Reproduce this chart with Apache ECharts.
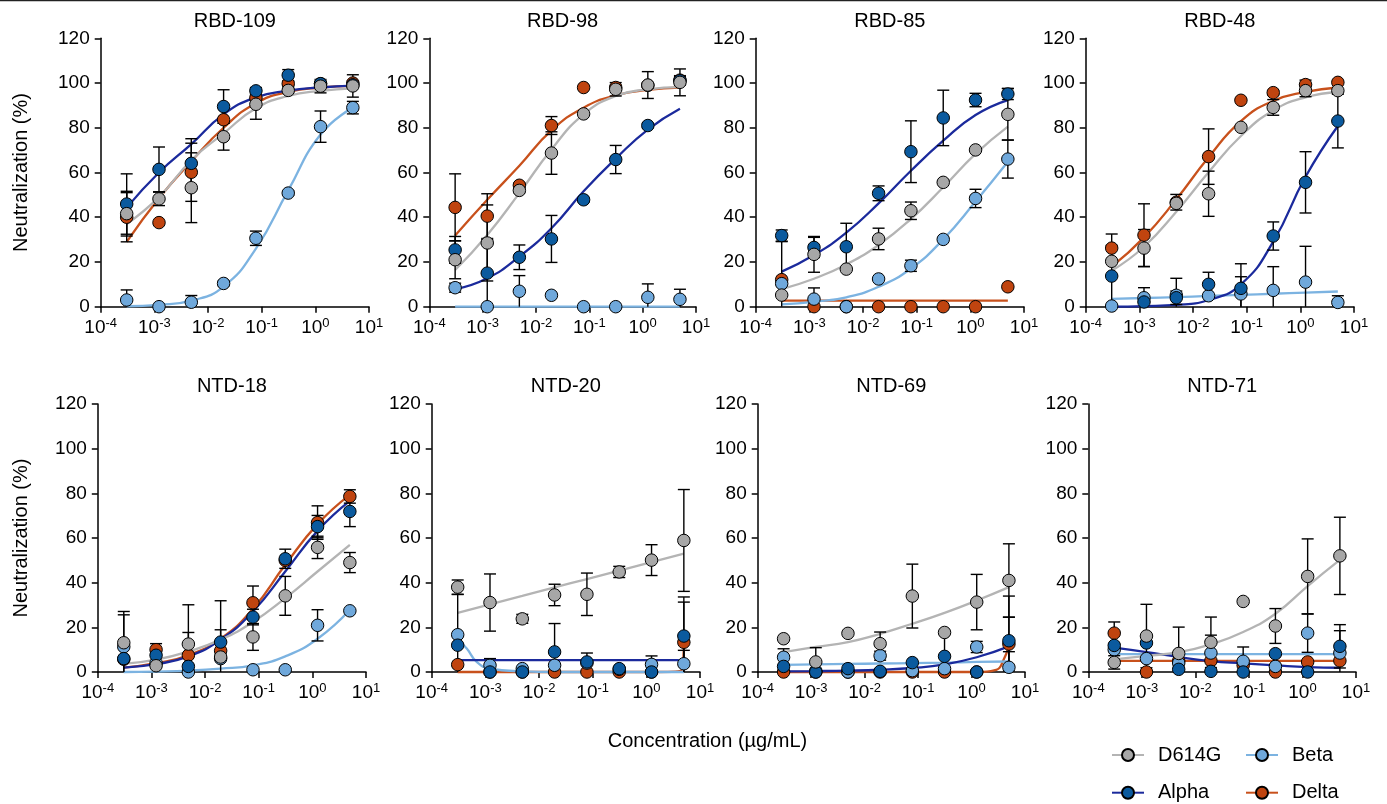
<!DOCTYPE html>
<html><head><meta charset="utf-8">
<script src="https://cdn.jsdelivr.net/npm/echarts@6/dist/echarts.min.js"></script>
<style>html,body{margin:0;padding:0;background:#fff}#chart{width:1387px;height:804px}</style>
</head><body><div id="chart"></div>
<script>
// ---------- data ----------
const concentrations = [0.000305, 0.00122, 0.00488, 0.0195, 0.0781, 0.3125, 1.25, 5];
const variants = ['D614G', 'Alpha', 'Beta', 'Delta'];
const panelTitles = ['RBD-109', 'RBD-98', 'RBD-85', 'RBD-48', 'NTD-18', 'NTD-20', 'NTD-69', 'NTD-71'];
const yTicks = [0, 20, 40, 60, 80, 100, 120];
const xTickExponents = [-4, -3, -2, -1, 0, 1];

// rows: D614G, Alpha, Beta, Delta
const RBD109_mean = [[41.6,48.2,53.2,76,90.5,96.7,98.6,98.7],[45.9,61.4,64.1,89.5,96.5,103.5,99.7,99.2],[3,0,2,10.4,30.6,50.8,80.5,89],[40,37.6,60.1,83.6,93.3,99.7,99.7,100]];
const RBD109_sd   = [[10,3,15.6,6,6.7,1,3,5],[13.5,10,11,7.5,1.5,2.5,1,1],[4.5,0,3,1,3.2,1,7,2.8],[11,0,13,0,1,1,1,1]];
const RBD109_fit  = [[37,49,65.5,77.5,88.7,94.2,96.5,97.6],[44.3,60,72.7,86,93.6,96.6,98,98.8],[0.2,0.8,2.7,9,26,52,77,89],[29,48.5,65,80,91,96,98,98.7]];

const RBD98_mean = [[21,28.5,52,68.7,86.2,97.2,99.1,100.3],[25.4,15,22.1,30.3,47.8,65.8,81,101],[8.5,0,6.9,5.1,0,0,4.2,3.3],[44.4,40.5,54.3,81,98,98,99,101.3]];
const RBD98_sd   = [[8.5,17,1,9.5,0,3,6,6],[6,15,5.5,10.5,1,6.3,1,2],[2,0,7,0,0,0,6,4.5],[15,10,1,4,0,1,1,2]];
const RBD98_fit  = [[16.4,32.1,50.8,70.3,86,94.2,97.2,98.2],[7.8,12.7,22.4,35.1,51.6,66.2,79.2,88.5],[0,0,0,0,0,0,0,0],[31.8,47.8,63,78.8,89,94.5,96.9,98]];

const RBD85_mean = [[5.2,23.4,16.8,30.3,42.9,55.6,70.1,86],[31.8,26.5,26.8,50.7,69.3,84.4,92.4,95.1],[10.3,3.4,0,12.4,18.3,30.1,48.4,66],[12.1,0,0,0,0,0,0,8.9]];
const RBD85_sd   = [[0,8,0,4.8,3.9,0,0,11.5],[2.5,4.5,10.5,3.3,13.8,12.4,3,2.5],[0,5,0,0,2.5,0,4.1,8.5],[17,0,0,0,0,0,0,0]];
const RBD85_fit  = [[7.9,12.5,18.9,27.6,39.2,53.4,68.3,80.5],[15.7,23.1,33.1,46.2,60.8,74.2,85.7,92.4],[1,2.2,4.2,8.9,17.1,30.1,47,64.8],[2.7,2.7,2.7,2.7,2.7,2.7,2.7,2.7]];

const RBD48_mean = [[20.3,26.2,46.2,50.5,80.2,89.1,96.6,96.6],[13.7,2.1,4,10,8.2,31.6,55.6,83],[0.3,4,5.1,4.9,5.7,7.3,11,1.9],[26.2,32,46.7,67.1,92.3,95.7,99.3,100.3]];
const RBD48_sd   = [[0,8.3,0,10.1,0,3.5,2.7,0],[13.7,2.5,3,5.4,11,6.3,13.7,12],[0,4.5,7.6,0,7.7,10.6,16,3],[6.3,14,3.5,12.4,0,1,2,0]];
const RBD48_fit  = [[16.1,26.8,42.5,60.1,76.3,87.7,93.6,96],[0,0.3,0.8,3,10,29.1,58.1,80.8],[3.5,3.9,4.3,4.8,5.3,5.8,6.3,6.8],[17.9,31,48,66.8,83,92,96,98]];

const NTD18_mean = [[13.1,2.8,12.5,6.7,15.7,34.1,55.8,49],[6,7.5,2.5,13.4,24.6,50.7,65.1,71.9],[11.3,4,0,6,1,1,20.9,27.4],[5.7,10,7.5,9.5,31,50,66.9,78.6]];
const NTD18_sd   = [[14,0,17.6,0,6,8.7,5,4.5],[0,0,0,5.5,3.5,4.3,5,6.8],[14.3,0,0,0,0,0,7,0],[0,2.7,10.2,22.4,7.5,0,7.5,3]];
const NTD18_fit  = [[3.6,5.5,9.2,14.5,22.4,33.1,45,56.9],[2,3.5,7,14.5,27.1,45,63.2,76.6],[0,0.2,0.6,1.5,3,7,14.9,27.9],[2,4,7.5,14.9,28.3,48,66.2,79.3]];

const NTD20_mean = [[38,31.1,23.8,34.5,34.8,44.8,50.1,58.9],[12,0,0,9,4.5,1.5,0,16.1],[16.7,3,1.5,3,4,1.2,3.4,3.7],[3.3,0,0,0,0,0,0,13.3]];
const NTD20_sd   = [[3.2,12.8,2,4.8,9.5,2.5,6.9,22.8],[0,0,0,12.7,4,0,0,17.5],[18,3,0,0,0,0,3.8,6],[0,0,0,0,0,0,0,18]];
const NTD20_fit  = [[26.5,30.3,34.1,37.9,41.6,45.4,49.2,53],[5.3,5.3,5.3,5.3,5.3,5.3,5.3,5.3],[14.5,1.5,0.3,0,0,0,0,0],[0,0,0,0,0,0,0,13]];
const NTD20_fitExtra = [[], [], [[0.00045,10.5],[0.00069,4.5]], [[4.4,0.5]]];

const NTD69_mean = [[14.9,4.5,17.3,12.7,34,17.7,31.3,41],[2.5,0,1.5,0.3,4.2,7,0,14],[6.6,0.5,0,7.3,0.6,1.5,11.2,2.1],[0,0,0,0,0,0,0,12.5]];
const NTD69_sd   = [[0,6.4,0,5.2,14.3,0,12.4,16.4],[0,0,0,0,0,10,0,20],[3.8,0,0,2,0,0,2.5,7],[0,0,0,0,0,0,0,12]];
const NTD69_fit  = [[8.9,11.2,13.4,17.1,21.6,26.5,32,38],[0.3,0.4,0.6,1,1.8,3.4,6.6,11.5],[3.2,3.4,3.6,3.8,4,4.2,4.5,4.7],[0,0,0,0,0,0,0,12]];
const NTD69_fitExtra = [[], [], [], [[2.9,1],[3.9,5]]];

const NTD71_mean = [[4.3,16.1,8.3,13.3,31.6,20.6,42.8,52],[11.9,13,1.2,0.3,0,8.2,0,11.5],[10,6,4,8.5,4.8,2.5,17.4,8.5],[17.4,0,5,5,3,0,4.5,5]];
const NTD71_sd   = [[3,14.2,11.8,11.3,0,7.8,16.8,17.3],[0,0,0,0,0,0,0,9.7],[0,0,0,8,6.4,0,8.6,10],[5,0,0,0,0,0,0,0]];
const NTD71_fit  = [[5.7,7.2,8.9,12.4,17.9,26.1,38.5,50.2],[10.9,8.9,6.7,4.9,3.9,3,2.2,1.9],[8,8,8,8,8,8,8,8],[5,5,5,5,5,5,5,5]];

const panelMeans = [RBD109_mean, RBD98_mean, RBD85_mean, RBD48_mean, NTD18_mean, NTD20_mean, NTD69_mean, NTD71_mean];
const panelSDs   = [RBD109_sd, RBD98_sd, RBD85_sd, RBD48_sd, NTD18_sd, NTD20_sd, NTD69_sd, NTD71_sd];
const panelFits  = [RBD109_fit, RBD98_fit, RBD85_fit, RBD48_fit, NTD18_fit, NTD20_fit, NTD69_fit, NTD71_fit];
const panelFitExtras = [null, null, null, null, null, NTD20_fitExtra, NTD69_fitExtra, null];

// ---------- styling ----------
const FONT = 'Liberation Sans, Arial, Helvetica, sans-serif';
const markerColors = { D614G: '#a7a7a7', Alpha: '#0b5a9e', Beta: '#6fa8db', Delta: '#c0440f' };
const curveColors  = { D614G: '#b4b4b4', Alpha: '#1b2a9c', Beta: '#7cb3e1', Delta: '#c8511c' };
const drawOrder = ['Delta', 'Beta', 'Alpha', 'D614G'];

const gridLefts  = [100.7, 429.3, 755.7, 1085.7, 97.8, 431.7, 757.7, 1088.3];
const gridWidths = [268.3, 266.7, 268.3, 268.3, 268.2, 268.3, 267.3, 267.7];
const rowTops = [38.3, 404];
const rowHeights = [268.4, 268];

const grids = [], xAxes = [], yAxes = [], series = [], graphics = [];

function renderErr(params, api) {
  const x = api.value(0), m = api.value(1), e = api.value(2);
  if (!(e > 0)) return null;
  const hi = m + e, lo = Math.max(0, m - e);
  const p1 = api.coord([x, hi]), p0 = api.coord([x, lo]);
  const w = 6;
  const st = { stroke: '#000', lineWidth: 1.4, fill: null };
  const ch = [
    { type: 'line', shape: { x1: p0[0], y1: p0[1], x2: p1[0], y2: p1[1] }, style: st },
    { type: 'line', shape: { x1: p1[0] - w, y1: p1[1], x2: p1[0] + w, y2: p1[1] }, style: st }
  ];
  if (m - e >= 0) ch.push({ type: 'line', shape: { x1: p0[0] - w, y1: p0[1], x2: p0[0] + w, y2: p0[1] }, style: st });
  return { type: 'group', children: ch };
}

panelTitles.forEach((title, p) => {
  const row = p < 4 ? 0 : 1;
  grids.push({ left: gridLefts[p], top: rowTops[row], width: gridWidths[p], height: rowHeights[row], containLabel: false });
  xAxes.push({
    gridIndex: p, type: 'log', logBase: 10, min: Math.pow(10, xTickExponents[0]), max: Math.pow(10, xTickExponents[xTickExponents.length - 1]),
    axisLine: { lineStyle: { color: '#000', width: 1.5 } },
    axisTick: { show: true, length: 6, lineStyle: { color: '#000', width: 1.5 } },
    minorTick: { show: false }, splitLine: { show: false },
    axisLabel: {
      margin: 10,
      formatter: v => '{b|10}{s|' + Math.round(Math.log10(v)) + '}',
      rich: {
        b: { fontSize: 19, color: '#000', fontFamily: FONT },
        s: { fontSize: 13, color: '#000', fontFamily: FONT, padding: [0, 0, 9, 0] }
      }
    }
  });
  yAxes.push({
    gridIndex: p, type: 'value', min: yTicks[0], max: yTicks[yTicks.length - 1], interval: yTicks[1] - yTicks[0],
    axisLine: { show: true, lineStyle: { color: '#000', width: 1.5 } },
    axisTick: { show: true, length: 6, lineStyle: { color: '#000', width: 1.5 } },
    splitLine: { show: false },
    axisLabel: { fontSize: 19, color: '#000', fontFamily: FONT, margin: 11 }
  });

  const means = panelMeans[p], sds = panelSDs[p], fits = panelFits[p], extras = panelFitExtras[p];
  drawOrder.forEach(v => {
    const k = variants.indexOf(v);
    let pts = concentrations.map((c, i) => [c, fits[k][i]]);
    if (extras && extras[k].length) pts = pts.concat(extras[k]).sort((a, b) => a[0] - b[0]);
    series.push({
      name: title + ' ' + v + ' fit', type: 'line', xAxisIndex: p, yAxisIndex: p, data: pts,
      symbol: 'none', smooth: 0.5, clip: false, z: 2, silent: true,
      lineStyle: { color: curveColors[v], width: 2.3 }
    });
  });
  drawOrder.forEach(v => {
    const k = variants.indexOf(v);
    series.push({
      name: title + ' ' + v + ' sd', type: 'custom', xAxisIndex: p, yAxisIndex: p, z: 3, silent: true, clip: false,
      data: concentrations.map((c, i) => [c, means[k][i], sds[k][i]]),
      encode: { x: 0, y: 1 }, renderItem: renderErr
    });
  });
  drawOrder.forEach(v => {
    const k = variants.indexOf(v);
    series.push({
      name: title + ' ' + v + ' mean', type: 'scatter', xAxisIndex: p, yAxisIndex: p, z: 4, clip: false, silent: true,
      data: concentrations.map((c, i) => [c, means[k][i]]),
      symbol: 'circle', symbolSize: 12.5,
      itemStyle: { color: markerColors[v], borderColor: '#000', borderWidth: 1, opacity: 1 }
    });
  });

  graphics.push({
    type: 'text', x: gridLefts[p] + gridWidths[p] / 2, y: rowTops[row] - 17.3,
    style: { text: title, fontSize: 20, fontFamily: FONT, fill: '#000', align: 'center', verticalAlign: 'middle' }
  });
});

// legend-only series
variants.forEach(v => {
  series.push({
    name: v, type: 'line', xAxisIndex: 0, yAxisIndex: 0, data: [],
    symbol: 'circle', symbolSize: 12,
    lineStyle: { color: curveColors[v], width: 3 },
    itemStyle: { color: markerColors[v], borderColor: '#000', borderWidth: 1 }
  });
});

graphics.push(
  { type: 'text', x: 21, y: rowTops[0] + rowHeights[0] / 2, rotation: Math.PI / 2,
    style: { text: 'Neutralization (%)', fontSize: 20, fontFamily: FONT, fill: '#000', align: 'center', verticalAlign: 'middle' } },
  { type: 'text', x: 21, y: rowTops[1] + rowHeights[1] / 2, rotation: Math.PI / 2,
    style: { text: 'Neutralization (%)', fontSize: 20, fontFamily: FONT, fill: '#000', align: 'center', verticalAlign: 'middle' } },
  { type: 'text', x: 707.5, y: 741,
    style: { text: 'Concentration (µg/mL)', fontSize: 20, fontFamily: FONT, fill: '#000', align: 'center', verticalAlign: 'middle' } },
  { type: 'rect', shape: { x: 0, y: 0, width: 1387, height: 1.3 }, style: { fill: '#222' } }
);

const legendBase = {
  orient: 'vertical', itemWidth: 32, itemHeight: 15, itemGap: 15.7, selectedMode: false,
  top: 744, height: 80, padding: 0,
  textStyle: { fontSize: 20, color: '#000', fontFamily: FONT, padding: [0, 0, 0, 9], lineHeight: 22 }
};

const chart = echarts.init(document.getElementById('chart'), null, { renderer: 'canvas' });
chart.setOption({
  backgroundColor: '#fff',
  animation: false,
  grid: grids, xAxis: xAxes, yAxis: yAxes, series: series,
  legend: [
    Object.assign({}, legendBase, { data: ['D614G', 'Alpha'], left: 1111 }),
    Object.assign({}, legendBase, { data: ['Beta', 'Delta'], left: 1245 })
  ],
  graphic: graphics
});
</script></body></html>
